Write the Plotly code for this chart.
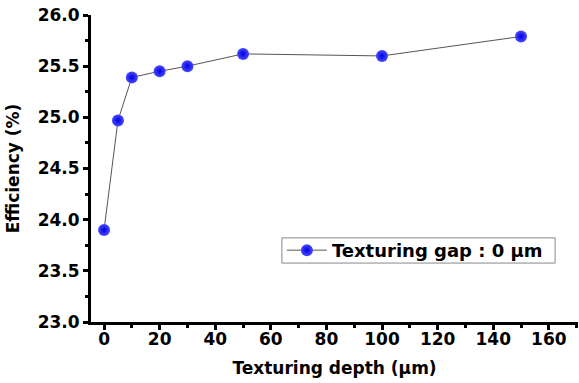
import plotly.graph_objects as go

depth = [0, 5, 10, 20, 30, 50, 100, 150]
efficiency = [23.90, 24.97, 25.39, 25.45, 25.50, 25.62, 25.60, 25.79]
series_name = "Texturing gap : 0 \u03bcm"
x_title = "Texturing depth (\u03bcm)"
y_title = "Efficiency (%)"

font_family = "DejaVu Sans, Arial, sans-serif"

fig = go.Figure()
fig.add_trace(go.Scatter(
    x=depth, y=efficiency, mode="lines+markers", name=series_name,
    line=dict(color="#555555", width=1),
    marker=dict(size=12, color="#4a4aff", symbol="circle",
                gradient=dict(type="radial", color="#0000e0"),
                line=dict(width=0)),
))

axis_common = dict(
    showline=True, linecolor="black", linewidth=3,
    ticks="outside", tickwidth=3, ticklen=5, tickcolor="black",
    showgrid=False, zeroline=False, mirror=False, automargin=False,
    ticklabeloverflow="allow",
    tickfont=dict(family=font_family, size=17, color="black", weight="bold"),
)

fig.update_xaxes(
    range=[-4.7, 170.5], tickmode="linear", tick0=0, dtick=20,
    minor=dict(ticks="outside", dtick=10, ticklen=3, tickwidth=3, tickcolor="black"),
    ticklabelstandoff=-5,
    title=dict(text=x_title, font=dict(family=font_family, size=17, color="black", weight="bold"), standoff=14),
    **axis_common,
)
fig.update_yaxes(
    range=[23.0, 26.0], tickmode="linear", tick0=23, dtick=0.5, tickformat=".1f",
    minor=dict(ticks="outside", dtick=0.25, ticklen=3, tickwidth=3, tickcolor="black"),
    title=dict(text=y_title, font=dict(family=font_family, size=17, color="black", weight="bold"), standoff=14),
    **axis_common,
)

# legend frame (decoration)
fig.add_shape(type="rect", xref="paper", yref="paper",
              x0=0.392, x1=0.953, y0=0.192, y1=0.274,
              line=dict(color="#888888", width=1), fillcolor="white", layer="below")

fig.update_layout(
    width=579, height=383,
    margin=dict(l=91, r=1, t=15, b=61),
    paper_bgcolor="white", plot_bgcolor="rgba(0,0,0,0)",
    showlegend=True,
    legend=dict(
        x=0.392, y=0.233, xanchor="left", yanchor="middle",
        borderwidth=0, bgcolor="rgba(0,0,0,0)", itemwidth=40,
        font=dict(family=font_family, size=18, color="black", weight="bold"),
    ),
)

fig.write_html(
    "out.html",
    config={"displayModeBar": False},
    post_script="document.body.style.margin='0';document.body.style.overflow='hidden';",
)
